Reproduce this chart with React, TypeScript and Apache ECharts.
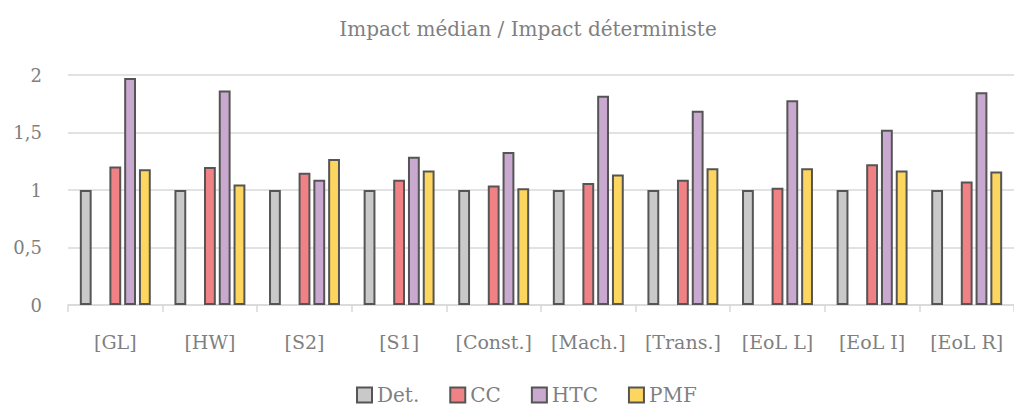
import React, { useEffect, useRef } from "react";
import * as echarts from "echarts";

const categories = ["[GL]", "[HW]", "[S2]", "[S1]", "[Const.]", "[Mach.]", "[Trans.]", "[EoL L]", "[EoL I]", "[EoL R]"];
const detValues = [1, 1, 1, 1, 1, 1, 1, 1, 1, 1];
const ccValues = [1.205, 1.2, 1.15, 1.09, 1.04, 1.06, 1.09, 1.02, 1.223, 1.074];
const htcValues = [1.974, 1.866, 1.09, 1.29, 1.33, 1.82, 1.69, 1.78, 1.525, 1.85];
const pmfValues = [1.18, 1.048, 1.27, 1.17, 1.016, 1.135, 1.19, 1.19, 1.17, 1.16];
const yTicks = [0, 0.5, 1, 1.5, 2];

const FONT = "'DejaVu Serif', 'Liberation Serif', serif";
const TEXT = "#7f7f7f";
const BORDER = "#555555";

export default function App() {
  const ref = useRef<HTMLDivElement>(null);
  useEffect(() => {
    if (!ref.current) return;
    const chart = echarts.init(ref.current, undefined, { renderer: "svg" });
    const mk = (name: string, data: (number | null)[], color: string) => ({
      name,
      type: "bar",
      data,
      barGap: "25%",
      barCategoryGap: "25%",
      itemStyle: { color, borderColor: BORDER, borderWidth: 2 },
    });
    chart.setOption({
      animation: false,
      textStyle: { fontFamily: FONT },
      title: {
        text: "Impact médian / Impact déterministe",
        left: 523,
        textAlign: "center",
        top: 14,
        textStyle: { fontFamily: FONT, fontSize: 20, fontWeight: "normal", color: TEXT },
      },
      legend: {
        data: ["Det.", "CC", "HTC", "PMF"],
        top: 380,
        left: 351,
        itemWidth: 15,
        itemHeight: 15,
        itemGap: 30,
        icon: "rect",
        itemStyle: { borderWidth: 2, borderColor: BORDER },
        textStyle: { fontFamily: FONT, fontSize: 20, color: TEXT, padding: [0, 0, 0, 0] },
      },
      grid: { left: 68, right: -9, top: 75, bottom: 104, containLabel: false },
      xAxis: {
        type: "category",
        data: categories,
        axisLine: { lineStyle: { color: "#d9d9d9", width: 1.5 } },
        axisTick: { show: true, interval: 0, length: 7, lineStyle: { color: "#d9d9d9", width: 1.5 } },
        axisLabel: { interval: 0, hideOverlap: false, fontFamily: FONT, fontSize: 19, color: TEXT, margin: 27 },
      },
      yAxis: {
        type: "value",
        min: yTicks[0],
        max: yTicks[yTicks.length - 1],
        interval: 0.5,
        axisLine: { show: false },
        axisTick: { show: false },
        splitLine: { lineStyle: { color: "#d9d9d9", width: 1.5 } },
        axisLabel: {
          fontFamily: FONT,
          fontSize: 18,
          color: TEXT,
          margin: 26,
          formatter: (v: number) => String(v).replace(".", ","),
        },
      },
      series: [
        mk("Det.", detValues, "#c9c9c9"),
        mk("", categories.map(() => null), "transparent"),
        mk("CC", ccValues, "#f08286"),
        mk("HTC", htcValues, "#c9a9cf"),
        mk("PMF", pmfValues, "#fdd65f"),
      ],
    });
    return () => chart.dispose();
  }, []);
  return <div ref={ref} style={{ width: 1014, height: 409, position: "absolute", left: 0, top: 0 }} />;
}
